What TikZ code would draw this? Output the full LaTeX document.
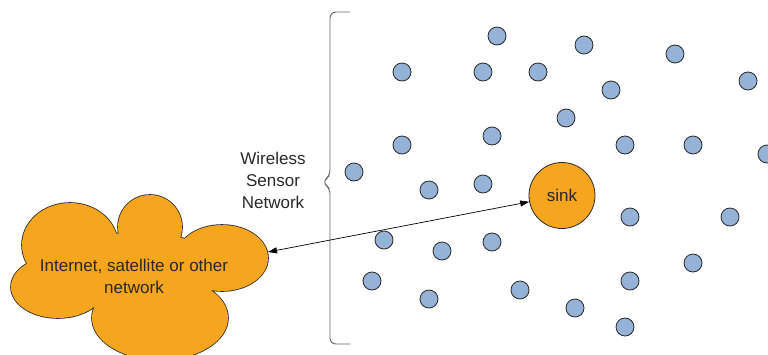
\documentclass[tikz,border=0pt]{standalone}
\usepackage{fontspec}
\setmainfont{Liberation Sans}
\usetikzlibrary{arrows.meta}
\definecolor{cloudorange}{RGB}{246,166,30}
\definecolor{motefill}{RGB}{149,179,215}
\definecolor{outlinegray}{RGB}{40,40,40}
\definecolor{bracegray}{RGB}{100,100,100}
\definecolor{labeltext}{RGB}{40,40,40}
\tikzset{
  mote/.style={circle, minimum size=18pt, inner sep=0pt, fill=motefill, draw=outlinegray, line width=0.8pt},
  sinknode/.style={circle, minimum size=66pt, inner sep=0pt, fill=cloudorange, draw=outlinegray, line width=0.8pt,
    text=labeltext, font=\fontsize{17}{20}\selectfont},
  label text/.style={text=labeltext, align=center, font=\fontsize{17}{22}\selectfont},
  link/.style={{Triangle[length=9pt,width=6pt]}-{Triangle[length=9pt,width=6pt]}, line width=0.7pt, black},
}
\begin{document}
\begin{tikzpicture}[x=1pt,y=-1pt]
\useasboundingbox (0,0) rectangle (768,354);

% cloud: union of ellipses, outline first then fill on top
\begin{scope}
  \clip (0,0) rectangle (768,354);
  \def\cloudparts{
    (58,287) ellipse [x radius=47, y radius=31]
    (70,245) ellipse [x radius=48, y radius=42]
    (150,227) circle [radius=32]
    (222,258) ellipse [x radius=46, y radius=33]
    (160,318) ellipse [x radius=68, y radius=42]
    (140,272) ellipse [x radius=80, y radius=40]
  }
  \draw[outlinegray, line width=1.6pt] \cloudparts;
  \fill[cloudorange] \cloudparts;
\end{scope}
\node[label text] (net) at (134,276) {Internet, satellite or other\\network};
\coordinate (cloudtip) at (268,252);

% brace around the sensor field
\draw[bracegray, line width=0.9pt, rounded corners=6pt]
  (350,12) -- (330,12) -- (330,176) -- (322,182) -- (330,188) -- (330,344) -- (350,344);
\node[label text] (wsn) at (273,180) {Wireless\\Sensor\\Network};

% sensor motes
\foreach \n/\x/\y in {
  1/497/36, 2/584/45, 3/675/54, 4/402/72, 5/483/72, 6/538/72, 7/748/81, 8/611/90,
  9/566/118, 10/492/136, 11/402/145, 12/625/145, 13/693/145, 14/767/154, 15/354/172,
  16/483/184, 17/429/190, 18/630/217, 19/730/217, 20/384/240, 21/492/242, 22/442/251,
  23/693/263, 24/372/281, 25/630/281, 26/520/290, 27/429/299, 28/575/308, 29/625/327}
  \node[mote] (m\n) at (\x,\y) {};

% sink
\node[sinknode] (sink) at (562,195.5) {sink};

% link between external network and sink
\draw[link] (cloudtip) -- (sink);
\end{tikzpicture}
\end{document}
